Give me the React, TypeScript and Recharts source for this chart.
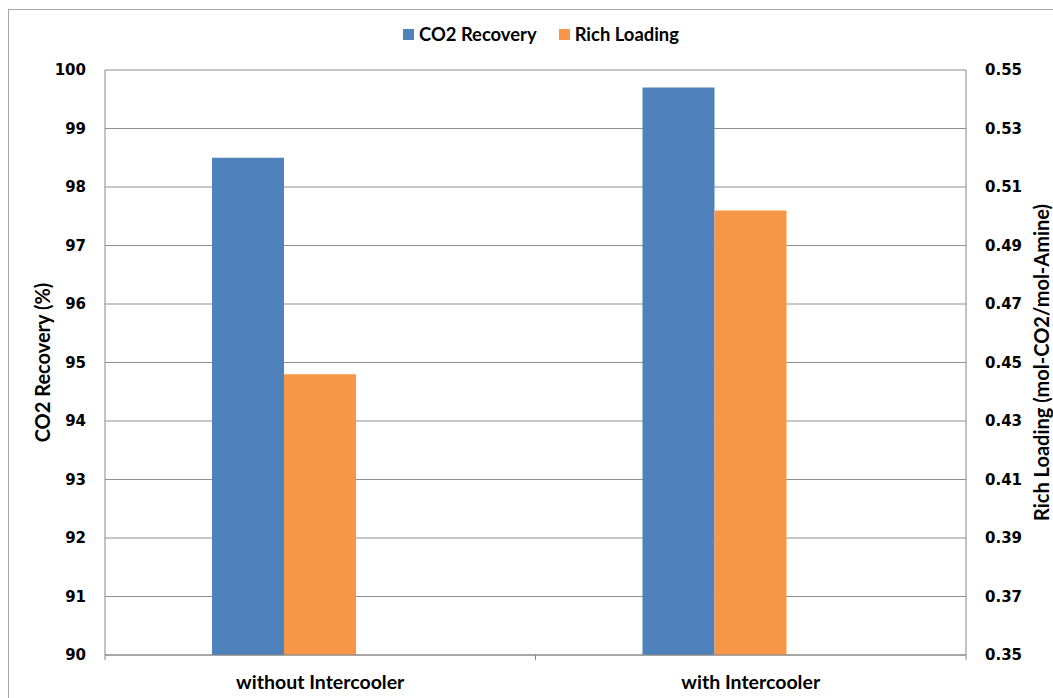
import React from 'react';
import { BarChart, Bar, XAxis, YAxis, CartesianGrid, Legend } from 'recharts';

// Process configurations compared on the category axis
const categories = ['without Intercooler', 'with Intercooler'];
// CO2 recovery, % (left axis)
const co2Recovery = [98.5, 99.7];
// Rich loading, mol-CO2/mol-Amine (right axis)
const richLoading = [0.446, 0.502];
// Axis tick values
const recoveryTicks = [90, 91, 92, 93, 94, 95, 96, 97, 98, 99, 100];
const loadingTicks = [0.35, 0.37, 0.39, 0.41, 0.43, 0.45, 0.47, 0.49, 0.51, 0.53, 0.55];

const seriesNames = { recovery: 'CO2 Recovery', loading: 'Rich Loading' };
const BLUE = '#4F81BD';
const ORANGE = '#F79646';
const AXIS_GRAY = '#868686';
const GRID_GRAY = '#8f8f8f';

const data = categories.map((name, i) => ({
  name,
  recovery: co2Recovery[i],
  loading: richLoading[i],
  spacer: null as number | null,
}));

const W = 1044;
const H = 688;
const LEFT_AXIS_W = 96;
const RIGHT_AXIS_W = 87;
const TOP = 60;
const X_AXIS_H = 43;
const PLOT_W = W - LEFT_AXIS_W - RIGHT_AXIS_W;
const PLOT_H = H - TOP - X_AXIS_H;
const HALF_BAND = PLOT_W / categories.length / 2;

const labelFont = 'Lato, "Open Sans", sans-serif';
const numberFont = '"DejaVu Sans", Verdana, sans-serif';

function CategoryTick(props: any) {
  const { x, y, payload } = props;
  const index = props.index ?? payload.index ?? 0;
  const marks = index === 0 ? [x - HALF_BAND, x + HALF_BAND] : [x + HALF_BAND];
  return (
    <g>
      {marks.map((mx: number, i: number) => (
        <line key={i} x1={mx} x2={mx} y1={y} y2={y + 5} stroke={AXIS_GRAY} strokeWidth={1} />
      ))}
      <text
        x={x}
        y={y + 34}
        textAnchor="middle"
        fontFamily={labelFont}
        fontWeight={700}
        fontSize={19.5}
        fill="#000"
      >
        {payload.value}
      </text>
    </g>
  );
}

function LegendRow() {
  const items = [
    { label: seriesNames.recovery, color: BLUE },
    { label: seriesNames.loading, color: ORANGE },
  ];
  return (
    <div style={{ display: 'flex', alignItems: 'center', gap: 22 }}>
      {items.map((it) => (
        <div key={it.label} style={{ display: 'flex', alignItems: 'center', gap: 5 }}>
          <span style={{ width: 11, height: 11, background: it.color, display: 'inline-block' }} />
          <span
            style={{
              fontFamily: labelFont,
              fontWeight: 700,
              fontSize: 18.4,
              color: '#000',
              lineHeight: '20px',
              whiteSpace: 'nowrap',
            }}
          >
            {it.label}
          </span>
        </div>
      ))}
    </div>
  );
}

function AxisTitle({ x, y, text }: { x: number; y: number; text: string }) {
  return (
    <text
      transform={`translate(${x}, ${y}) rotate(-90)`}
      textAnchor="middle"
      dominantBaseline="central"
      fontFamily={labelFont}
      fontWeight={700}
      fontSize={20}
      fill="#000"
    >
      {text}
    </text>
  );
}

export default function App() {
  const midY = TOP + PLOT_H / 2;
  return (
    <div
      style={{
        position: 'absolute',
        left: 8,
        top: 9,
        width: 1045,
        height: 689,
        boxSizing: 'border-box',
        borderLeft: '1px solid #a6a6a6',
        borderTop: '1px solid #a6a6a6',
        background: '#fff',
      }}
    >
      <BarChart
        width={W}
        height={H}
        data={data}
        margin={{ top: TOP, right: 0, bottom: 0, left: 0 }}
        barGap={0}
        barSize={72}
      >
        <CartesianGrid yAxisId="left" vertical={false} stroke={GRID_GRAY} horizontalValues={recoveryTicks} />
        <XAxis
          dataKey="name"
          height={X_AXIS_H}
          tickSize={0}
          tickMargin={0}
          tickLine={false}
          axisLine={{ stroke: AXIS_GRAY }}
          tick={<CategoryTick />}
          interval={0}
        />
        <YAxis
          yAxisId="left"
          orientation="left"
          width={LEFT_AXIS_W}
          domain={[90, 100]}
          ticks={recoveryTicks}
          allowDataOverflow
          tickLine={false}
          tickSize={0}
          tickMargin={19}
          axisLine={{ stroke: AXIS_GRAY }}
          tick={{ fontFamily: numberFont, fontWeight: 700, fontSize: 15, fill: '#000' }}
          label={{ content: () => <AxisTitle x={33} y={midY} text="CO2 Recovery (%)" /> }}
        />
        <YAxis
          yAxisId="right"
          orientation="right"
          width={RIGHT_AXIS_W}
          domain={[0.35, 0.55]}
          ticks={loadingTicks}
          allowDataOverflow
          tickLine={false}
          tickSize={0}
          tickMargin={19}
          axisLine={{ stroke: AXIS_GRAY }}
          tickFormatter={(v: number) => v.toFixed(2)}
          tick={{ fontFamily: numberFont, fontWeight: 700, fontSize: 15, fill: '#000' }}
          label={{ content: () => <AxisTitle x={1032} y={midY} text="Rich Loading (mol-CO2/mol-Amine)" /> }}
        />
        <Legend
          layout="horizontal"
          verticalAlign="middle"
          align="center"
          wrapperStyle={{ top: 14, left: 394, width: 340 }}
          content={() => <LegendRow />}
        />
        <Bar yAxisId="left" dataKey="recovery" name={seriesNames.recovery} fill={BLUE} isAnimationActive={false} />
        <Bar yAxisId="right" dataKey="loading" name={seriesNames.loading} fill={ORANGE} isAnimationActive={false} />
        <Bar yAxisId="left" dataKey="spacer" legendType="none" fill="none" isAnimationActive={false} />
      </BarChart>
    </div>
  );
}
